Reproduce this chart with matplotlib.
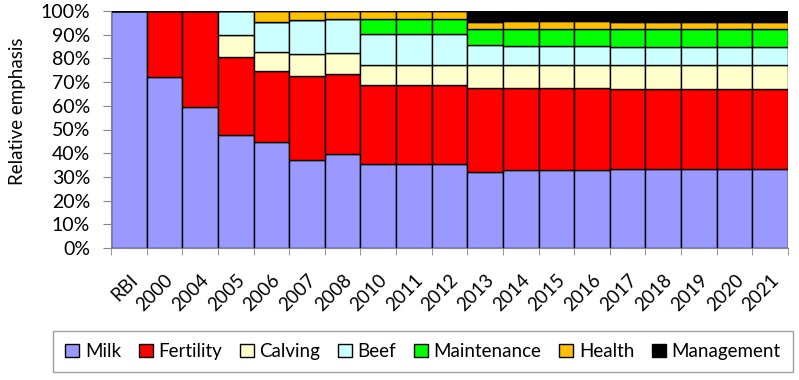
import matplotlib
matplotlib.use('Agg')
import matplotlib.pyplot as plt
import matplotlib.transforms as mtransforms
import numpy as np

plt.rcParams['font.family'] = ['Lato', 'DejaVu Sans']

years = ['RBI', '2000', '2004', '2005', '2006', '2007', '2008', '2010', '2011',
         '2012', '2013', '2014', '2015', '2016', '2017', '2018', '2019', '2020', '2021']

milk =        [100.0, 72.0, 59.5, 47.7, 44.6, 37.0, 39.5, 35.3, 35.3, 35.3, 32.2, 32.8, 32.8, 32.8, 33.5, 33.5, 33.5, 33.5, 33.5]
fertility =   [0.0, 28.0, 40.5, 32.9, 30.0, 35.4, 33.8, 33.6, 33.6, 33.6, 35.2, 34.7, 34.7, 34.7, 33.5, 33.5, 33.5, 33.5, 33.5]
calving =     [0.0, 0.0, 0.0, 9.1, 8.0, 9.3, 8.8, 8.3, 8.3, 8.3, 9.7, 9.6, 9.6, 9.6, 10.1, 10.1, 10.1, 10.1, 10.1]
beef =        [0.0, 0.0, 0.0, 10.3, 12.8, 14.4, 14.5, 13.0, 13.0, 13.0, 8.4, 8.1, 8.1, 8.1, 7.6, 7.6, 7.6, 7.6, 7.6]
maintenance = [0.0, 0.0, 0.0, 0.0, 0.0, 0.0, 0.0, 6.6, 6.6, 6.6, 6.8, 7.3, 7.3, 7.3, 7.6, 7.6, 7.6, 7.6, 7.6]
health =      [0.0, 0.0, 0.0, 0.0, 4.6, 3.9, 3.4, 3.2, 3.2, 3.2, 3.2, 3.3, 3.3, 3.3, 3.1, 3.1, 3.1, 3.1, 3.1]
management =  [0.0, 0.0, 0.0, 0.0, 0.0, 0.0, 0.0, 0.0, 0.0, 0.0, 4.5, 4.2, 4.2, 4.2, 4.6, 4.6, 4.6, 4.6, 4.6]

series = [
    ('Milk', milk, '#9999FF'),
    ('Fertility', fertility, '#FF0000'),
    ('Calving', calving, '#FFFFCC'),
    ('Beef', beef, '#CCFFFF'),
    ('Maintenance', maintenance, '#00FF00'),
    ('Health', health, '#FFC000'),
    ('Management', management, '#000000'),
]

fig = plt.figure(figsize=(7.99, 3.80), dpi=100)
ax = fig.add_axes([111 / 799, 132 / 380, 677 / 799, 237 / 380])

x = np.arange(len(years))
bottom = np.zeros(len(years))
for name, vals, color in series:
    vals = np.array(vals)
    ax.bar(x, vals, width=1.0, bottom=bottom, color=color, edgecolor='black',
           linewidth=1.0, label=name)
    bottom += vals

ax.set_xlim(-0.5, len(years) - 0.5)
ax.set_ylim(0, 100)
ax.set_yticks(np.arange(0, 101, 10))
ax.set_yticklabels(['{}%'.format(v) for v in range(0, 101, 10)], fontsize=14)
ax.set_xticks(x)
ax.set_xticklabels(years, rotation=45, ha='right', rotation_mode='anchor', fontsize=13.5)
shift = mtransforms.ScaledTranslation(6 / 100, 0, fig.dpi_scale_trans)
for lbl in ax.get_xticklabels():
    lbl.set_transform(lbl.get_transform() + shift)
ax.set_xticks(np.arange(-0.5, len(years)), minor=True)
ax.tick_params(axis='x', which='major', length=0, pad=17)
ax.tick_params(axis='x', which='minor', length=5, color='#868686', direction='out')
ax.tick_params(axis='y', length=6, color='#868686', direction='out', pad=9)
ax.set_ylabel('Relative emphasis', fontsize=13.5)
ax.yaxis.set_label_coords(-85 / 677, 0.578)

for side in ['top', 'right']:
    ax.spines[side].set_visible(False)
for side in ['left', 'bottom']:
    ax.spines[side].set_color('#868686')

leg = fig.legend(loc='center', bbox_to_anchor=(53 / 799, 4 / 380, 740 / 799, 49 / 380),
                 mode='expand', ncol=7, fontsize=13.5, frameon=True, fancybox=False,
                 edgecolor='#868686', handlelength=0.75, handleheight=0.75,
                 handletextpad=0.3, borderaxespad=0, borderpad=0.65)
leg.get_frame().set_linewidth(1.0)

fig.savefig('out.png', dpi=100)
